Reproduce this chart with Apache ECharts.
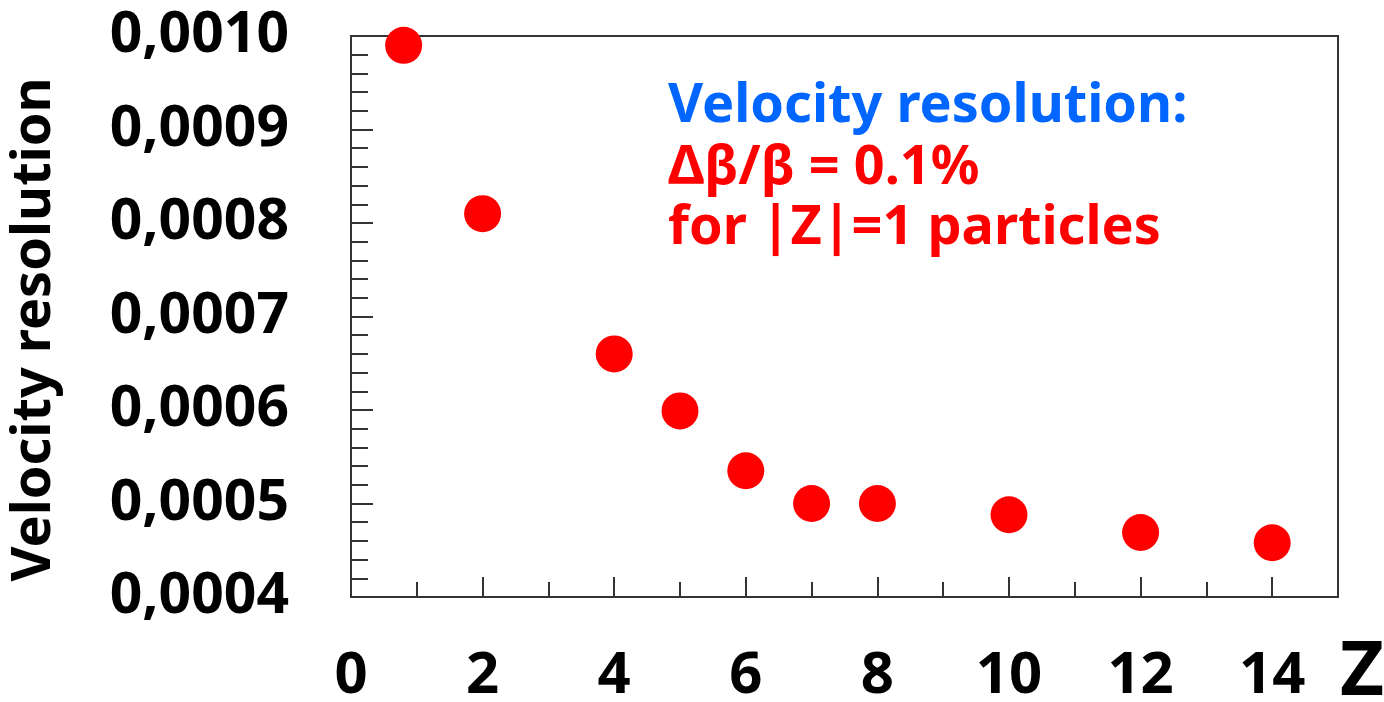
<!DOCTYPE html>
<html>
<head>
<meta charset="utf-8">
<script src="https://cdn.jsdelivr.net/npm/echarts@6/dist/echarts.min.js"></script>
<style>
html,body{margin:0;padding:0;background:#fff;}
#chart{width:1384px;height:702px;}
</style>
</head>
<body>
<div id="chart"></div>
<script>
// Data
const zValues = [0.8, 2, 4, 5, 6, 7, 8, 10, 12, 14];
const resolutionValues = [0.00099, 0.00081, 0.00066, 0.000599, 0.000535, 0.0005, 0.0005, 0.000488, 0.000469, 0.000458];
const xTickLabels = ['0', '2', '4', '6', '8', '10', '12', '14'];
const annotationLines = ['Velocity resolution:', 'Δβ/β = 0.1%', 'for |Z|=1 particles'];
const yAxisTitle = 'Velocity resolution';
const xAxisTitle = 'Z';

const points = zValues.map((z, i) => [z, resolutionValues[i]]);
const FONT = '"Noto Sans", "Open Sans", sans-serif';

const chart = echarts.init(document.getElementById('chart'));
chart.setOption({
  backgroundColor: '#fff',
  animation: false,
  grid: { left: 351, right: 46, top: 36, bottom: 105, containLabel: false, outerBoundsMode: 'none', show: true, borderColor: '#333', borderWidth: 2, backgroundColor: 'transparent' },
  xAxis: {
    type: 'value', min: 0, max: 15, interval: 2,
    name: xAxisTitle, nameLocation: 'end', nameGap: 2,
    nameTextStyle: { fontFamily: FONT, fontWeight: 'bold', fontSize: 76, color: '#000', align: 'left', verticalAlign: 'top', padding: [38, 0, 0, 0] },
    axisLine: { show: true, lineStyle: { color: '#333', width: 2 } },
    axisTick: { show: true, inside: true, length: 20, lineStyle: { color: '#333', width: 2 } },
    minorTick: { show: true, splitNumber: 2, length: 15, lineStyle: { color: '#333', width: 2 } },
    splitLine: { show: false },
    axisLabel: {
      fontFamily: FONT, fontWeight: 'bold', fontSize: 58, color: '#000', margin: 50,
      formatter: v => (xTickLabels.indexOf(String(v)) >= 0 ? String(v) : '')
    }
  },
  yAxis: {
    type: 'value', min: 0.0004, max: 0.001, interval: 0.0001,
    name: yAxisTitle, nameLocation: 'middle', nameGap: 289, nameRotate: 90,
    nameTextStyle: { fontFamily: FONT, fontWeight: 'bold', fontSize: 54, color: '#000', padding: [0, 26, 0, 0] },
    axisLine: { show: true, lineStyle: { color: '#333', width: 2 } },
    axisTick: { show: true, inside: true, length: 22, lineStyle: { color: '#333', width: 2 } },
    minorTick: { show: true, splitNumber: 5, length: 17, lineStyle: { color: '#333', width: 2 } },
    splitLine: { show: false },
    axisLabel: {
      fontFamily: FONT, fontWeight: 'bold', fontSize: 57, color: '#000', margin: 62,
      formatter: v => v.toFixed(4).replace('.', ',')
    }
  },
  series: [{
    type: 'scatter',
    data: points,
    symbol: 'circle',
    symbolSize: 37,
    itemStyle: { color: '#ff0000', opacity: 1 },
    clip: false
  }],
  graphic: [
    { type: 'text', left: 668, top: 80, style: { text: annotationLines[0], fill: '#0066ff', font: 'bold 54px ' + FONT } },
    { type: 'text', left: 668, top: 142, style: { text: annotationLines[1], fill: '#ff0000', font: 'bold 54px ' + FONT } },
    { type: 'text', left: 668, top: 202, style: { text: annotationLines[2], fill: '#ff0000', font: 'bold 54px ' + FONT } }
  ]
});
</script>
</body>
</html>
